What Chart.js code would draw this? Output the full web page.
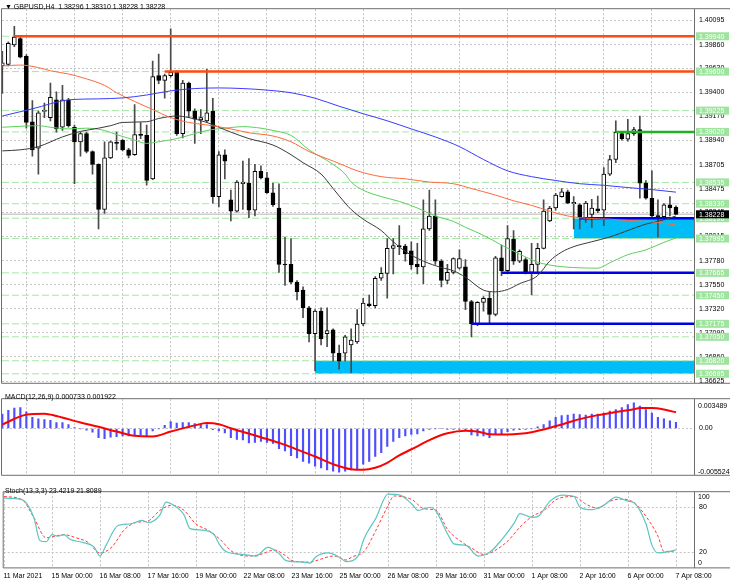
<!DOCTYPE html>
<html>
<head>
<meta charset="utf-8">
<title>GBPUSD H4</title>
<script src="https://cdn.jsdelivr.net/npm/chart.js@4.4.1/dist/chart.umd.min.js"></script>
<style>
  html, body { margin: 0; padding: 0; background: #fff; }
  #wrap { position: relative; width: 730px; height: 584px; overflow: hidden; background: #fff; }
  canvas { position: absolute; left: 0; }
  .hdr { position: absolute; left: 5px; font: 7px "Liberation Sans", Arial, sans-serif; line-height: 8px; color: #000; white-space: pre; }
</style>
</head>
<body>
<div id="wrap">
  <canvas id="mainPane" width="730" height="392" style="top:0"></canvas>
  <canvas id="macdPane" width="730" height="94" style="top:390px"></canvas>
  <canvas id="stochPane" width="730" height="101" style="top:483px"></canvas>
  <div class="hdr" id="mainHdr" style="top:3px"></div>
  <div class="hdr" id="macdHdr" style="top:393px"></div>
  <div class="hdr" id="stochHdr" style="top:487px"></div>
</div>
<script>
// ---- data ----
const symbolName = 'GBPUSD,H4';
const timeLabels = ['11 Mar 2021', '15 Mar 00:00', '16 Mar 08:00', '17 Mar 16:00', '19 Mar 00:00',
  '22 Mar 08:00', '23 Mar 16:00', '25 Mar 00:00', '26 Mar 08:00', '29 Mar 16:00', '31 Mar 00:00',
  '1 Apr 08:00', '2 Apr 16:00', '6 Apr 00:00', '7 Apr 08:00'];
const timeLabelBars = [0, 8, 16, 24, 32, 40, 48, 56, 64, 72, 80, 88, 96, 104, 112];

const opens = [1.39654, 1.39670, 1.39856, 1.39918, 1.39747, 1.39118, 1.38863, 1.39217, 1.39158, 1.39328,
  1.39065, 1.39328, 1.39065, 1.38925, 1.39003, 1.38832, 1.38708, 1.38274, 1.38770, 1.38919,
  1.38941, 1.38848, 1.38801, 1.38994, 1.38987, 1.38569, 1.39561, 1.39515, 1.39561, 1.39592,
  1.39003, 1.39490, 1.39220, 1.39136, 1.39127, 1.39220, 1.38398, 1.38801, 1.38367, 1.38259,
  1.38522, 1.38528, 1.38268, 1.38640, 1.38578, 1.38435, 1.38289, 1.37747, 1.37747, 1.37576,
  1.37499, 1.37328, 1.37080, 1.37297, 1.37080, 1.37117, 1.36894, 1.36894, 1.36971, 1.37002,
  1.37173, 1.37368, 1.37350, 1.37613, 1.37660, 1.37901, 1.37927, 1.37923, 1.37877, 1.37747,
  1.37722, 1.38088, 1.38212, 1.37778, 1.37592, 1.37669, 1.37710, 1.37722, 1.37390, 1.37173,
  1.37381, 1.37421, 1.37266, 1.37809, 1.37685, 1.37989, 1.37778, 1.37793, 1.37669, 1.37747,
  1.37901, 1.38165, 1.38289, 1.38398, 1.38444, 1.38330, 1.38320, 1.38196, 1.38228, 1.38280,
  1.38268, 1.38615, 1.38755, 1.39003, 1.38950, 1.39003, 1.39043, 1.38528, 1.38382, 1.38212,
  1.38206, 1.38320, 1.38296];
const highs = [1.39794, 1.39887, 1.40036, 1.39933, 1.39763, 1.39322, 1.39220, 1.39298, 1.39490, 1.39406,
  1.39468, 1.39344, 1.39087, 1.39018, 1.39018, 1.38838, 1.38714, 1.38925, 1.38932, 1.39018,
  1.38947, 1.38863, 1.39282, 1.39111, 1.39087, 1.39701, 1.39769, 1.39577, 1.40011, 1.39608,
  1.39515, 1.39499, 1.39242, 1.39235, 1.39623, 1.39344, 1.38832, 1.38848, 1.38460, 1.38553,
  1.38740, 1.38764, 1.38708, 1.38693, 1.38631, 1.38528, 1.38522, 1.38010, 1.37995, 1.37592,
  1.37530, 1.37344, 1.37312, 1.37328, 1.37328, 1.37126, 1.36971, 1.37064, 1.37126, 1.37312,
  1.37421, 1.37452, 1.37629, 1.37716, 1.37995, 1.37995, 1.38119, 1.37939, 1.37964, 1.37948,
  1.38367, 1.38460, 1.38367, 1.37793, 1.37747, 1.37809, 1.37886, 1.37793, 1.37400, 1.37390,
  1.37437, 1.37483, 1.37824, 1.37933, 1.38119, 1.38072, 1.37886, 1.37809, 1.37948, 1.37948,
  1.38367, 1.38305, 1.38429, 1.38476, 1.38460, 1.38398, 1.38330, 1.38352, 1.38373, 1.38404,
  1.38677, 1.38795, 1.39127, 1.39025, 1.39142, 1.39065, 1.39173, 1.38553, 1.38646, 1.38367,
  1.38330, 1.38398, 1.38310];
const lows = [1.39391, 1.39654, 1.39840, 1.39732, 1.39056, 1.38786, 1.38615, 1.39158, 1.39127, 1.39018,
  1.39034, 1.39065, 1.38522, 1.38786, 1.38817, 1.38615, 1.38088, 1.38237, 1.38764, 1.38848,
  1.38838, 1.38770, 1.38795, 1.38956, 1.38507, 1.38562, 1.39484, 1.39344, 1.39546, 1.38987,
  1.38963, 1.39158, 1.38910, 1.39003, 1.39111, 1.38336, 1.38299, 1.38569, 1.38165, 1.38249,
  1.38274, 1.38196, 1.38212, 1.38569, 1.38429, 1.38305, 1.37669, 1.37545, 1.37561, 1.37406,
  1.37235, 1.37002, 1.36723, 1.36971, 1.36956, 1.36816, 1.36739, 1.36816, 1.36708, 1.36987,
  1.37157, 1.37337, 1.37328, 1.37592, 1.37421, 1.37654, 1.37840, 1.37778, 1.37700, 1.37654,
  1.37561, 1.38072, 1.37747, 1.37530, 1.37561, 1.37654, 1.37700, 1.37312, 1.37049, 1.37157,
  1.37297, 1.37173, 1.37250, 1.37638, 1.37669, 1.37747, 1.37762, 1.37654, 1.37452, 1.37654,
  1.37895, 1.38156, 1.38268, 1.38392, 1.38330, 1.38088, 1.38088, 1.38150, 1.38103, 1.38243,
  1.38119, 1.38600, 1.38724, 1.38941, 1.38932, 1.38987, 1.38382, 1.38373, 1.38196, 1.38010,
  1.38181, 1.38212, 1.38228];
const closes = [1.39685, 1.39871, 1.39933, 1.39738, 1.39111, 1.38848, 1.39204, 1.39229, 1.39353, 1.39049,
  1.39328, 1.39080, 1.38925, 1.39003, 1.38832, 1.38708, 1.38274, 1.38770, 1.38925, 1.38910,
  1.38848, 1.38795, 1.38994, 1.38987, 1.38553, 1.39552, 1.39515, 1.39561, 1.39592, 1.39003,
  1.39490, 1.39220, 1.39142, 1.39158, 1.39204, 1.38398, 1.38801, 1.38740, 1.38259, 1.38538,
  1.38538, 1.38268, 1.38640, 1.38578, 1.38435, 1.38320, 1.37747, 1.37741, 1.37576, 1.37483,
  1.37328, 1.37080, 1.37297, 1.37033, 1.37111, 1.36894, 1.36816, 1.37049, 1.37018, 1.37173,
  1.37375, 1.37350, 1.37613, 1.37660, 1.37901, 1.37927, 1.37917, 1.37846, 1.37741, 1.37722,
  1.38088, 1.38212, 1.37778, 1.37592, 1.37669, 1.37803, 1.37803, 1.37390, 1.37173, 1.37381,
  1.37421, 1.37266, 1.37809, 1.37685, 1.37995, 1.37778, 1.37871, 1.37669, 1.37747, 1.37901,
  1.38259, 1.38289, 1.38413, 1.38444, 1.38336, 1.38342, 1.38196, 1.38336, 1.38289, 1.38262,
  1.38615, 1.38755, 1.39018, 1.38956, 1.39003, 1.39043, 1.38528, 1.38382, 1.38212, 1.38206,
  1.38320, 1.38289, 1.38228];

// moving averages, read at sampled bars
const maSlowBars = [0, 5, 11, 16, 20, 24, 28, 32, 36, 40, 44, 48, 52, 56, 60, 64, 68, 72, 76, 80, 84, 88, 92, 96, 100, 104, 108, 112];
const maSlowValues = [1.39173, 1.39242, 1.39328, 1.39338, 1.39347, 1.39375, 1.39415, 1.39437, 1.39443, 1.39437,
  1.39422, 1.39397, 1.39344, 1.39267, 1.39195, 1.39127, 1.39049, 1.38972, 1.38879, 1.38755,
  1.38646, 1.38590, 1.38553, 1.38522, 1.38507, 1.38485, 1.38466, 1.38441];
const maRedBars = [0, 3, 6, 8, 11, 14, 17, 19, 22, 25, 28, 31, 34, 38, 41, 45, 48, 51, 55, 57, 59, 63, 67, 71, 75, 78, 82, 85, 88, 91, 94, 98, 101, 104, 108, 112];
const maRedValues = [1.39654, 1.39663, 1.39639, 1.39608, 1.39577, 1.39530, 1.39468, 1.39397, 1.39313, 1.39235,
  1.39158, 1.39111, 1.39087, 1.39049, 1.39012, 1.38981, 1.38925, 1.38832, 1.38740, 1.38693,
  1.38646, 1.38590, 1.38569, 1.38538, 1.38522, 1.38476, 1.38413, 1.38358, 1.38314, 1.38259,
  1.38212, 1.38187, 1.38181, 1.38169, 1.38156, 1.38125];
const maBlackBars = [0, 3, 6, 10, 13, 16, 18, 20, 24, 26, 29, 31, 34, 38, 41, 45, 48, 50, 53, 55, 57, 58, 60, 63, 65, 67, 70, 73, 75, 77, 80, 82, 84, 86, 89, 91, 93, 95, 98, 101, 104, 107, 110, 112];
const maBlackValues = [1.38838, 1.38848, 1.38879, 1.38972, 1.39025, 1.39056, 1.39080, 1.39111, 1.39118, 1.39149,
  1.39173, 1.39158, 1.39111, 1.39018, 1.38956, 1.38894, 1.38801, 1.38724, 1.38615, 1.38476,
  1.38336, 1.38274, 1.38181, 1.38072, 1.37964, 1.37871, 1.37778, 1.37716, 1.37685, 1.37623,
  1.37499, 1.37483, 1.37505, 1.37561, 1.37638, 1.37778, 1.37865, 1.37917, 1.37964, 1.38010,
  1.38072, 1.38134, 1.38175, 1.38212];
const maGreenBars = [0, 3, 6, 8, 11, 14, 17, 19, 22, 24, 26, 29, 31, 34, 38, 40, 43, 45, 48, 51, 55, 57, 58, 60, 63, 66, 69, 72, 75, 77, 80, 83, 86, 89, 92, 95, 99, 101, 104, 107, 110, 112];
const maGreenValues = [1.39065, 1.39074, 1.39080, 1.39065, 1.39049, 1.39056, 1.39034, 1.38994, 1.38941, 1.38910,
  1.38925, 1.38956, 1.38987, 1.39034, 1.39062, 1.39071, 1.39056, 1.39034, 1.38987, 1.38848,
  1.38708, 1.38615, 1.38538, 1.38460, 1.38398, 1.38352, 1.38289, 1.38212, 1.38159, 1.38103,
  1.38026, 1.37933, 1.37846, 1.37768, 1.37731, 1.37716, 1.37710, 1.37762, 1.37840, 1.37886,
  1.37958, 1.38001];

// horizontal levels and zones
const levelPrices = [1.39940, 1.39600, 1.39225, 1.39020, 1.38535, 1.38330, 1.38190, 1.37995, 1.37665, 1.37450, 1.37175, 1.37050, 1.36820, 1.36695];
const resistancePrices = [1.39940, 1.39600];
const resistanceStarts = [2, 27];
const pivotPrices = [1.39020];
const pivotStarts = [102];
const supportPrices = [1.38190, 1.37665, 1.37175];
const supportStarts = [96, 83, 78];
const zoneTops = [1.38190, 1.36820];
const zoneBottoms = [1.37995, 1.36695];
const zoneStarts = [95, 52];
const priceTicks = [1.40095, 1.39860, 1.39630, 1.39400, 1.39170, 1.38940, 1.38705, 1.38475, 1.38245, 1.38015, 1.37780, 1.37550, 1.37320, 1.37090, 1.36860, 1.36625];
const priceMin = 1.36608, priceMax = 1.40200;

// MACD(12,26,9)
const macdMain = [0.00172, 0.00216, 0.00243, 0.00250, 0.00199, 0.00132, 0.00115, 0.00105, 0.00098, 0.00071,
  0.00071, 0.00047, 0.00010, -0.00003, -0.00020, -0.00044, -0.00111, -0.00122, -0.00105, -0.00098,
  -0.00088, -0.00088, -0.00078, -0.00078, -0.00088, -0.00030, -0.00003, 0.00037, 0.00081, 0.00064,
  0.00071, 0.00071, 0.00057, 0.00047, 0.00047, -0.00014, -0.00030, -0.00054, -0.00111, -0.00132,
  -0.00138, -0.00172, -0.00165, -0.00155, -0.00165, -0.00179, -0.00240, -0.00267, -0.00324, -0.00351,
  -0.00392, -0.00415, -0.00449, -0.00469, -0.00493, -0.00510, -0.00520, -0.00510, -0.00493, -0.00483,
  -0.00426, -0.00392, -0.00334, -0.00290, -0.00213, -0.00155, -0.00111, -0.00088, -0.00071, -0.00064,
  -0.00030, -0.00010, -0.00003, 0.00000, -0.00010, -0.00010, -0.00010, -0.00020, -0.00078, -0.00088,
  -0.00088, -0.00111, -0.00064, -0.00064, -0.00037, -0.00020, -0.00014, -0.00010, -0.00003, 0.00020,
  0.00047, 0.00091, 0.00132, 0.00155, 0.00159, 0.00172, 0.00165, 0.00159, 0.00172, 0.00172,
  0.00182, 0.00206, 0.00226, 0.00250, 0.00284, 0.00307, 0.00267, 0.00226, 0.00182, 0.00132,
  0.00115, 0.00091, 0.000733];
const macdSignalBars = [0, 4, 7, 9, 13, 16, 19, 22, 25, 28, 32, 34, 36, 38, 43, 47, 49, 52, 55, 58, 60, 62, 64, 66, 69, 71, 74, 77, 79, 81, 84, 86, 88, 91, 94, 96, 99, 102, 105, 106, 108, 110, 112];
const macdSignalValues = [0.00047, 0.00165, 0.00176, 0.00149, 0.00071, 0.00020, -0.00037, -0.00088, -0.00095, -0.00037,
  0.00037, 0.00064, 0.00051, 0.00003, -0.00105, -0.00196, -0.00250, -0.00334, -0.00426, -0.00486,
  -0.00493, -0.00469, -0.00409, -0.00321, -0.00213, -0.00138, -0.00057, -0.00027, -0.00037, -0.00068,
  -0.00071, -0.00064, -0.00044, 0.00007, 0.00068, 0.00111, 0.00159, 0.00196, 0.00230, 0.00243,
  0.00243, 0.00226, 0.001922];
const macdMin = -0.005524, macdMax = 0.003489;

// Stochastic(13,3,3)
const stochMainBars = [0, 3, 5, 6, 7, 8, 9, 10, 11, 13, 15, 16, 17, 19, 21, 23, 24, 26, 27, 28, 30, 31, 33, 35, 36,
  37, 40, 42, 44, 46, 47, 50, 51, 52, 54, 56, 57, 59, 60, 62, 64, 66, 68, 69, 71, 72, 74, 75, 77, 79,
  81, 83, 85, 86, 88, 89, 91, 93, 95, 96, 98, 100, 102, 104, 105, 107, 108, 109, 111, 112];
const stochMainValues = [92.2, 90.1, 65.8, 35.4, 34.2, 43.5, 41.5, 43.5, 37.4, 33.4, 27.3, 15.1, 29.3, 55.7, 57.7,
  62.6, 59.7, 69.9, 86.9, 84.0, 69.9, 51.6, 49.6, 43.5, 29.3, 21.2, 17.1, 15.1, 26.5, 17.1,
  9.0, 7.0, 5.8, 14.3, 19.2, 13.1, 7.8, 15.1, 38.2, 65.8, 97.4, 96.2, 84.0, 75.9, 80.0,
  74.7, 43.5, 31.3, 29.3, 15.1, 20.4, 37.4, 58.5, 71.5, 66.6, 67.8, 88.1, 96.2, 94.2, 80.0,
  76.7, 82.8, 93.4, 88.1, 86.1, 57.7, 29.3, 19.2, 21.2, 23.4219];
const stochSignalBars = [0, 3, 5, 7, 10, 12, 14, 16, 18, 20, 22, 24, 26, 28, 30, 32, 34, 36, 38, 41, 43, 45, 47, 48,
  51, 52, 55, 57, 58, 60, 62, 64, 65, 68, 70, 72, 74, 76, 78, 80, 82, 84, 86, 88, 90, 92, 95, 97,
  99, 101, 103, 105, 107, 109, 110, 112];
const stochSignalValues = [94.2, 90.1, 65.8, 39.4, 43.5, 39.4, 33.4, 19.2, 27.3, 49.6, 59.7, 61.7, 75.9, 82.8, 75.9,
  57.7, 49.6, 37.4, 21.2, 15.1, 17.9, 23.2, 15.1, 9.0, 7.0, 9.0, 15.1, 9.8, 13.9, 21.2,
  49.6, 82.0, 95.0, 90.1, 78.0, 75.9, 49.6, 35.4, 25.3, 17.1, 23.2, 35.4, 53.6, 67.8, 75.9,
  90.1, 94.2, 84.0, 78.8, 88.1, 90.9, 86.1, 67.8, 41.5, 21.2, 21.8089];
const stochLevels = [20, 80];

// ---- layout / style ----
const xMin = -0.05, xMax = 115;
const fontFamily = '"Liberation Sans", Arial, sans-serif';
const gridColor = '#c4c4c4';
const frameColor = '#6e6e6e';
Chart.defaults.font.family = fontFamily;
Chart.defaults.font.size = 7;
Chart.defaults.color = '#000';

const last = closes.length - 1;
const lastPrice = closes[last];
const pts = (xs, ys) => xs.map((x, k) => ({ x: x, y: ys[k] }));
const flat = (from, y) => [{ x: from, y: y }, { x: xMax, y: y }];

document.getElementById('mainHdr').textContent = '\u25BC ' + symbolName + '  ' +
  [opens[last], highs[last], lows[last], closes[last]].map(v => v.toFixed(5)).join(' ');
document.getElementById('macdHdr').textContent = 'MACD(12,26,9) ' +
  macdMain[last].toFixed(6) + ' ' + macdSignalValues[macdSignalValues.length - 1].toFixed(6);
document.getElementById('stochHdr').textContent = 'Stoch(13,3,3) ' +
  stochMainValues[stochMainValues.length - 1].toFixed(4) + ' ' + stochSignalValues[stochSignalValues.length - 1].toFixed(4);

// pane frame: left edge plus top / bottom separators across the full width
const paneFrame = {
  id: 'paneFrame',
  afterDraw(chart) {
    const { ctx, chartArea: a, width } = chart;
    ctx.save();
    ctx.strokeStyle = frameColor;
    ctx.lineWidth = 1;
    ctx.beginPath();
    ctx.moveTo(a.left - 0.5, a.top - 0.5); ctx.lineTo(width, a.top - 0.5);
    ctx.moveTo(a.left - 0.5, a.bottom + 0.5); ctx.lineTo(width, a.bottom + 0.5);
    ctx.moveTo(a.left - 0.5, a.top - 0.5); ctx.lineTo(a.left - 0.5, a.bottom + 0.5);
    ctx.stroke();
    ctx.restore();
  }
};

// price tags on the right axis for each level and the last price
const priceTags = {
  id: 'priceTags',
  afterDraw(chart) {
    const s = chart.scales.y, ctx = chart.ctx, left = chart.chartArea.right + 2;
    ctx.save();
    ctx.font = '7px ' + fontFamily;
    ctx.textBaseline = 'middle';
    const tag = (v, bg, fg) => {
      const py = s.getPixelForValue(v);
      ctx.fillStyle = bg;
      ctx.fillRect(left, py - 4, chart.width - left - 1, 8);
      ctx.fillStyle = fg;
      ctx.fillText(v.toFixed(5), left + 3, py + 0.5);
    };
    levelPrices.forEach(v => tag(v, '#9ee49e', '#ffffff'));
    tag(lastPrice, '#000000', '#ffffff');
    ctx.restore();
  }
};

// max / min value written at the pane edges (indicator panes)
const edgeLabels = {
  id: 'edgeLabels',
  afterDraw(chart, args, opts) {
    if (!opts.fmt) return;
    const s = chart.scales.y, ctx = chart.ctx, a = chart.chartArea;
    ctx.save();
    ctx.font = '7px ' + fontFamily;
    ctx.fillStyle = '#000';
    ctx.textBaseline = 'middle';
    ctx.fillText(opts.fmt(s.max), a.right + 4, a.top + opts.topGap);
    ctx.fillText(opts.fmt(s.min), a.right + 4, a.bottom - opts.bottomGap);
    ctx.restore();
  }
};

function timeAxis(showLabels) {
  return {
    type: 'linear', min: xMin, max: xMax, offset: false,
    afterBuildTicks: s => { s.ticks = timeLabelBars.map(v => ({ value: v })); },
    afterFit: s => { s.height = showLabels ? 16.6 : 0; },
    grid: { color: gridColor, drawTicks: false },
    border: { display: false, dash: [2, 2] },
    ticks: {
      display: showLabels, autoSkip: false, maxRotation: 0, minRotation: 0,
      align: 'start', labelOffset: -0.5, padding: 4,
      callback: v => timeLabels[timeLabelBars.indexOf(v)]
    }
  };
}

function valueAxis(min, max, ticks, fmt) {
  return {
    type: 'linear', position: 'right', min: min, max: max,
    afterBuildTicks: s => { s.ticks = ticks.map(v => ({ value: v })); },
    afterFit: s => { s.width = 36; },
    grid: { color: gridColor, drawTicks: false },
    border: { display: true, color: frameColor, dash: [2, 2] },
    ticks: { padding: 5, callback: fmt }
  };
}

const baseOptions = {
  responsive: false, animation: false, events: [],
  plugins: { legend: { display: false }, tooltip: { enabled: false } }
};

// ---- main price pane ----
const mainDatasets = [
  { type: 'line', data: pts(maSlowBars, maSlowValues), borderColor: '#3b3bff', borderWidth: 1, pointRadius: 0, cubicInterpolationMode: 'monotone', order: 1 },
  { type: 'line', data: pts(maRedBars, maRedValues), borderColor: '#ff6a3d', borderWidth: 1, pointRadius: 0, cubicInterpolationMode: 'monotone', order: 1 },
  { type: 'line', data: pts(maBlackBars, maBlackValues), borderColor: '#3a3a3a', borderWidth: 1, pointRadius: 0, cubicInterpolationMode: 'monotone', order: 1 },
  { type: 'line', data: pts(maGreenBars, maGreenValues), borderColor: '#5ccf5c', borderWidth: 1, pointRadius: 0, cubicInterpolationMode: 'monotone', order: 1 },
  {
    type: 'bar', order: 3, grouped: false, barThickness: 4, minBarLength: 1,
    data: opens.map((o, i) => ({ x: i, y: [Math.min(o, closes[i]), Math.max(o, closes[i])] })),
    backgroundColor: closes.map((c, i) => c >= opens[i] ? '#ffffff' : '#000000'),
    borderColor: '#000000', borderWidth: 1, borderSkipped: false
  },
  {
    type: 'bar', order: 4, grouped: false, barThickness: 1,
    data: opens.map((o, i) => ({ x: i, y: [lows[i], highs[i]] })),
    backgroundColor: '#4a4a4a', borderWidth: 0
  }
];
resistancePrices.forEach((p, k) => mainDatasets.push({ type: 'line', data: flat(resistanceStarts[k], p), borderColor: '#ff4a12', borderWidth: 2.5, pointRadius: 0, order: 2 }));
pivotPrices.forEach((p, k) => mainDatasets.push({ type: 'line', data: flat(pivotStarts[k], p), borderColor: '#21b021', borderWidth: 2.5, pointRadius: 0, order: 2 }));
supportPrices.forEach((p, k) => mainDatasets.push({ type: 'line', data: flat(supportStarts[k], p), borderColor: '#0000e6', borderWidth: 2.5, pointRadius: 0, order: 2 }));
mainDatasets.push({ type: 'line', data: flat(xMin, lastPrice), borderColor: '#cfcfcf', borderWidth: 1.5, pointRadius: 0, order: 5 });
levelPrices.forEach(p => mainDatasets.push({ type: 'line', data: flat(xMin, p), borderColor: '#a6e6a6', borderWidth: 1, borderDash: [7, 3], pointRadius: 0, order: 6 }));
zoneTops.forEach((p, k) => mainDatasets.push({
  type: 'line', data: flat(zoneStarts[k], p), borderWidth: 0, pointRadius: 0,
  fill: { value: zoneBottoms[k] }, backgroundColor: '#00bdf7', order: 7
}));

new Chart(document.getElementById('mainPane'), {
  type: 'bar',
  data: { datasets: mainDatasets },
  options: Object.assign({}, baseOptions, {
    layout: { padding: { left: 2, top: 3, right: 0, bottom: 3 } },
    scales: {
      x: timeAxis(false),
      y: valueAxis(priceMin, priceMax, priceTicks, v => v.toFixed(5))
    }
  }),
  plugins: [paneFrame, priceTags]
});

// ---- MACD pane ----
new Chart(document.getElementById('macdPane'), {
  type: 'bar',
  data: {
    datasets: [
      { type: 'line', data: pts(macdSignalBars, macdSignalValues), borderColor: '#ff0000', borderWidth: 2, pointRadius: 0, cubicInterpolationMode: 'monotone', order: 1 },
      { type: 'bar', data: macdMain.map((v, i) => ({ x: i, y: v })), backgroundColor: '#4f4fff', barThickness: 1.5, grouped: false, order: 2 }
    ]
  },
  options: Object.assign({}, baseOptions, {
    layout: { padding: { left: 2, top: 2, right: 0, bottom: 3 } },
    plugins: Object.assign({}, baseOptions.plugins, { edgeLabels: { fmt: v => v.toFixed(6), topGap: 7, bottomGap: 2.5 } }),
    scales: {
      x: timeAxis(false),
      y: valueAxis(macdMin, macdMax, [0], v => v.toFixed(2))
    }
  }),
  plugins: [paneFrame, edgeLabels]
});

// ---- Stochastic pane ----
new Chart(document.getElementById('stochPane'), {
  type: 'line',
  data: {
    datasets: [
      { data: pts(stochMainBars, stochMainValues), borderColor: '#5cc6c0', borderWidth: 1.2, pointRadius: 0, cubicInterpolationMode: 'monotone' },
      { data: pts(stochSignalBars, stochSignalValues), borderColor: '#ff3b3b', borderWidth: 1, borderDash: [3, 2], pointRadius: 0, cubicInterpolationMode: 'monotone' }
    ]
  },
  options: Object.assign({}, baseOptions, {
    layout: { padding: { left: 2, top: 2, right: 0, bottom: 0 } },
    plugins: Object.assign({}, baseOptions.plugins, { edgeLabels: { fmt: v => String(v), topGap: 5, bottomGap: 4.5 } }),
    scales: {
      x: timeAxis(true),
      y: valueAxis(0, 100, stochLevels, v => String(v))
    }
  }),
  plugins: [paneFrame, edgeLabels]
});
</script>
</body>
</html>
